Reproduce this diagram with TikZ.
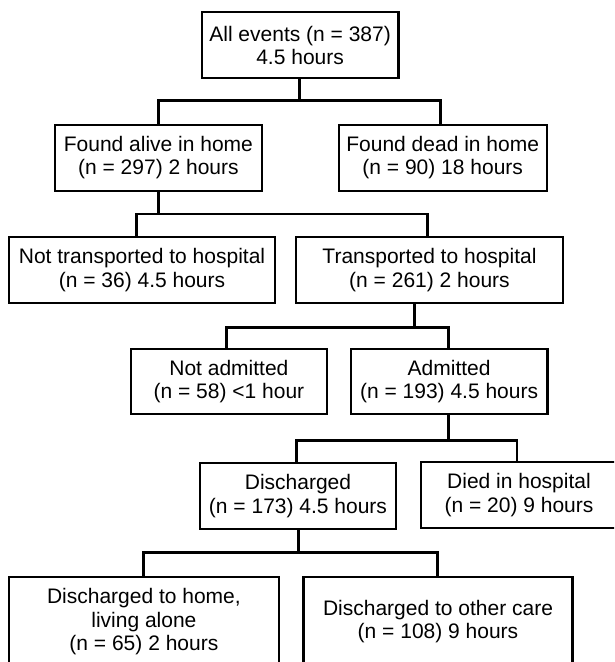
\documentclass[tikz,border=0pt]{standalone}
\usepackage{fontspec}
\setmainfont{Liberation Sans}
\begin{document}
\begin{tikzpicture}[x=1pt,y=-1pt,
  box/.style={draw=black,line width=2.2pt,fill=white,align=center,inner sep=0pt,
    font=\fontsize{21}{23.3}\selectfont},
  link/.style={draw=black,line width=2.6pt}]
\clip (0,0) rectangle (614,662);
\fill[white] (0,0) rectangle (614,662);
% boxes
\node[box,minimum width=196.8pt,minimum height=65.7pt] (all) at (300.1,45.2) {All events (n = 387)\\4.5 hours};
\node[box,minimum width=206.4pt,minimum height=65.7pt] (alive) at (158.4,157.9) {Found alive in home\\(n = 297) 2 hours};
\node[box,minimum width=208pt,minimum height=65.7pt] (dead) at (442.7,157.9) {Found dead in home\\(n = 90) 18 hours};
\node[box,minimum width=266pt,minimum height=65.4pt] (nottrans) at (142,270) {Not transported to hospital\\(n = 36) 4.5 hours};
\node[box,minimum width=266.3pt,minimum height=65.4pt] (trans) at (429.5,270) {Transported to hospital\\(n = 261) 2 hours};
\node[box,minimum width=196.2pt,minimum height=64.7pt] (notadm) at (228.9,381.7) {Not admitted\\(n = 58) <1 hour};
\node[box,minimum width=196.6pt,minimum height=64.7pt] (adm) at (449.1,381.7) {Admitted\\(n = 193) 4.5 hours};
\node[box,minimum width=196.5pt,minimum height=65.4pt] (disch) at (298,496) {Discharged\\(n = 173) 4.5 hours};
\node[box,minimum width=196pt,minimum height=65.4pt] (died) at (519,495) {Died in hospital\\(n = 20) 9 hours};
\node[box,minimum width=269.8pt,minimum height=90pt] (home) at (143.9,621.7) {Discharged to home,\\living alone\\(n = 65) 2 hours};
\node[box,minimum width=268.9pt,minimum height=90pt] (other) at (438,621.7) {Discharged to other care\\(n = 108) 9 hours};
% connectors
\coordinate (b1) at (299.2,100.7);
\draw[link] (all.south -| b1) -- (b1);
\draw[link] (alive.north -| 158.2,0) |- (b1) -| (dead.north -| 440.5,0);
\coordinate (b2) at (158.2,214);
\draw[link] (alive.south -| b2) -- (b2);
\draw[link] (nottrans.north -| 136.3,0) |- (b2) -| (trans.north -| 427.2,0);
\coordinate (b3) at (414.3,327.3);
\draw[link] (trans.south -| b3) -- (b3);
\draw[link] (notadm.north -| 226.3,0) |- (b3) -| (adm.north -| 448.3,0);
\coordinate (b4) at (448.3,440.7);
\draw[link] (adm.south -| b4) -- (b4);
\draw[link] (disch.north -| 296.4,0) |- (b4) -| (died.north -| 516.9,0);
\coordinate (b5) at (298.4,552.7);
\draw[link] (disch.south -| b5) -- (b5);
\draw[link] (home.north -| 143.7,0) |- (b5) -| (other.north -| 437.4,0);
\end{tikzpicture}
\end{document}
